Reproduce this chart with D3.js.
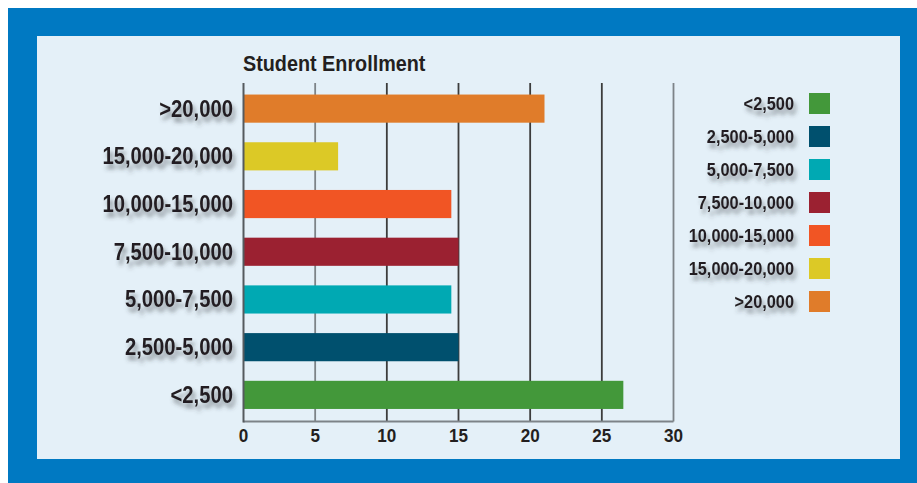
<!DOCTYPE html>
<html>
<head>
<meta charset="utf-8">
<script src="https://cdn.jsdelivr.net/npm/d3@7"></script>
<style>
  html, body { margin: 0; padding: 0; background: #fff; }
  svg text { font-family: "Liberation Sans", Arial, sans-serif; font-weight: bold; fill: #231f20; }
</style>
</head>
<body>
<div id="chart"></div>
<script>
// data (top to bottom in the plot)
const categories = [">20,000", "15,000-20,000", "10,000-15,000", "7,500-10,000", "5,000-7,500", "2,500-5,000", "<2,500"];
const values = [21, 6.6, 14.5, 15, 14.5, 15, 26.5];
const barColors = ["#e07c2a", "#dcc926", "#f15524", "#9b2131", "#00a9b3", "#00506e", "#43983a"];
const xTicks = [0, 5, 10, 15, 20, 25, 30];
const legendOrder = ["<2,500", "2,500-5,000", "5,000-7,500", "7,500-10,000", "10,000-15,000", "15,000-20,000", ">20,000"];
const title = "Student Enrollment";

const W = 917, H = 483;
const svg = d3.select("#chart").append("svg")
    .attr("width", W).attr("height", H);

// drop shadow for the labels
const defs = svg.append("defs");
const f = defs.append("filter").attr("id", "shadow")
    .attr("x", "-10%").attr("y", "-30%").attr("width", "130%").attr("height", "190%");
f.append("feDropShadow").attr("dx", 3).attr("dy", 5).attr("stdDeviation", 2.2)
    .attr("flood-color", "#3a3f44").attr("flood-opacity", 0.55);

// frame
svg.append("rect").attr("x", 8).attr("y", 8).attr("width", W - 8).attr("height", H - 8).attr("fill", "#0079c2");
svg.append("rect").attr("x", 37).attr("y", 36).attr("width", 863).attr("height", 423).attr("fill", "#e4f0f8");

const x = d3.scaleLinear().domain([0, 30]).range([243.5, 673.5]);
const y = d3.scaleBand().domain(categories).range([85, 418.5]).paddingInner(0.41).paddingOuter(0.2);
const colorOf = d3.scaleOrdinal().domain(categories).range(barColors);

const plotTop = 83, plotBottom = 421.5;

// condensed look: squeeze text horizontally
const squeeze = (tx, ty, s) => `translate(${tx},${ty}) scale(${s},1)`;

// grid lines
svg.append("g").selectAll("line")
    .data(xTicks.slice(1))
    .join("line")
    .attr("x1", d => x(d)).attr("x2", d => x(d))
    .attr("y1", plotTop).attr("y2", plotBottom)
    .attr("stroke", d => (d === 30 || d === 5) ? "#7d8388" : "#3c3c3c")
    .attr("stroke-width", 1.8);

// bars
svg.append("g").selectAll("rect")
    .data(categories)
    .join("rect")
    .attr("x", x(0))
    .attr("y", d => y(d))
    .attr("height", y.bandwidth())
    .attr("width", (d, i) => x(values[i]) - x(0))
    .attr("fill", d => colorOf(d));

// axes lines
svg.append("line").attr("x1", x(0)).attr("x2", x(30)).attr("y1", plotBottom).attr("y2", plotBottom)
    .attr("stroke", "#7d8388").attr("stroke-width", 2);
svg.append("line").attr("x1", x(0)).attr("x2", x(0)).attr("y1", plotTop).attr("y2", plotBottom + 1)
    .attr("stroke", "#555a5e").attr("stroke-width", 2);

// x tick labels
svg.append("g").selectAll("text")
    .data(xTicks)
    .join("text")
    .attr("transform", d => squeeze(x(d), 442, 0.9))
    .attr("text-anchor", "middle")
    .style("font-size", "19px")
    .text(d => d);

// category labels
svg.append("g").selectAll("text")
    .data(categories)
    .join("text")
    .attr("transform", d => squeeze(233, y(d) + y.bandwidth() / 2 + 8, 0.88))
    .attr("text-anchor", "end")
    .attr("filter", "url(#shadow)")
    .style("font-size", "23px")
    .text(d => d);

// title
svg.append("text")
    .attr("transform", squeeze(243, 71, 0.9))
    .style("font-size", "22px")
    .text(title);

// legend
const ly = d3.scalePoint().domain(legendOrder).range([93, 291]);
const legend = svg.append("g").selectAll("g")
    .data(legendOrder)
    .join("g")
    .attr("transform", d => `translate(0,${ly(d)})`);
legend.append("rect")
    .attr("x", 809).attr("width", 21).attr("height", 21)
    .attr("fill", d => colorOf(d));
legend.append("text")
    .attr("transform", squeeze(794, 17, 0.86))
    .attr("text-anchor", "end")
    .attr("filter", "url(#shadow)")
    .style("font-size", "19px")
    .text(d => d);
</script>
</body>
</html>
